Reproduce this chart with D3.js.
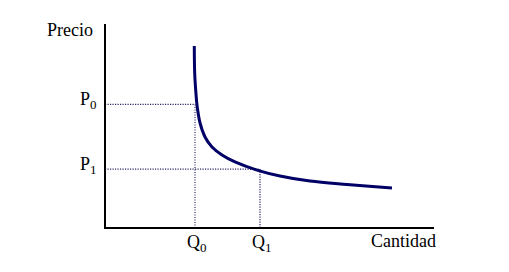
<!DOCTYPE html>
<html>
<head>
<meta charset="utf-8">
<script src="https://cdn.jsdelivr.net/npm/d3@7"></script>
<style>
  body { margin: 0; background: #fff; }
  text { font-family: "Liberation Serif", "Times New Roman", serif; fill: #000; }
</style>
</head>
<body>
<div id="wrapper"></div>
<script>
// demand curve (quantity, price in arbitrary units 0..10)
const curveQuantity = [2.714, 2.726, 2.757, 2.796, 2.888, 3.040, 3.252, 3.556, 3.951, 4.620, 5.319, 6.231, 7.356, 8.723];
const curvePrice    = [8.92, 7.60, 6.76, 6.03, 5.15, 4.46, 3.97, 3.58, 3.24, 2.84, 2.55, 2.30, 2.13, 1.96];

const refQuantities = [2.736, 4.711];
const refPrices     = [6.06, 2.89];
const refQLabels    = ["0", "1"];
const refPLabels    = ["0", "1"];

const axisTitleY = "Precio";
const axisTitleX = "Cantidad";

let dimensions = {
    width: 509,
    height: 272,
    margin: { top: 24, right: 75, bottom: 44, left: 105 }
};
dimensions.boundedWidth = dimensions.width - dimensions.margin.left - dimensions.margin.right;
dimensions.boundedHeight = dimensions.height - dimensions.margin.top - dimensions.margin.bottom;

const xScale = d3.scaleLinear().domain([0, 10]).range([0, dimensions.boundedWidth]);
const yScale = d3.scaleLinear().domain([0, 10]).range([dimensions.boundedHeight, 0]);

const svg = d3.select("#wrapper")
    .append("svg")
    .attr("width", dimensions.width)
    .attr("height", dimensions.height)
    .append("g")
    .attr("transform", `translate(${dimensions.margin.left},${dimensions.margin.top})`);

const dotColor = "#2a2a6a";

// dotted guide lines
refQuantities.forEach((q, i) => {
    const p = refPrices[i];
    svg.append("line")
        .attr("x1", xScale(0)).attr("x2", xScale(q))
        .attr("y1", yScale(p)).attr("y2", yScale(p))
        .attr("stroke", dotColor).attr("stroke-width", 1.2)
        .attr("stroke-dasharray", "1.2,1.3");
    svg.append("line")
        .attr("x1", xScale(q)).attr("x2", xScale(q))
        .attr("y1", yScale(p)).attr("y2", yScale(0))
        .attr("stroke", dotColor).attr("stroke-width", 1.2)
        .attr("stroke-dasharray", "1.2,1.3");
});

// axes
svg.append("line")
    .attr("x1", xScale(0)).attr("x2", xScale(0))
    .attr("y1", yScale(0) + 1).attr("y2", yScale(10))
    .attr("stroke", "#000").attr("stroke-width", 2);
svg.append("line")
    .attr("x1", xScale(0) - 1).attr("x2", xScale(10))
    .attr("y1", yScale(0)).attr("y2", yScale(0))
    .attr("stroke", "#000").attr("stroke-width", 2);

// curve
const curveData = curveQuantity.map((q, i) => ({ q: q, p: curvePrice[i] }));
svg.append("path")
    .datum(curveData)
    .attr("d", d3.line()
        .x(d => xScale(d.q))
        .y(d => yScale(d.p))
        .curve(d3.curveCatmullRom.alpha(0.5)))
    .attr("fill", "none")
    .attr("stroke", "#000066")
    .attr("stroke-width", 3);

// labels
function subLabel(sel, main, sub) {
    sel.append("tspan").text(main);
    sel.append("tspan").attr("font-size", 13).attr("dy", 4).text(sub);
}

refPrices.forEach((p, i) => {
    const t = svg.append("text")
        .attr("x", -25)
        .attr("y", yScale(p) + 1)
        .attr("font-size", 18);
    subLabel(t, "P", refPLabels[i]);
});

refQuantities.forEach((q, i) => {
    const t = svg.append("text")
        .attr("x", xScale(q) - 8)
        .attr("y", yScale(0) + 20)
        .attr("font-size", 18);
    subLabel(t, "Q", refQLabels[i]);
});

svg.append("text")
    .attr("x", -58)
    .attr("y", 12)
    .attr("font-size", 18)
    .text(axisTitleY);

svg.append("text")
    .attr("x", xScale(10) + 2)
    .attr("y", yScale(0) + 19)
    .attr("text-anchor", "end")
    .attr("font-size", 18)
    .text(axisTitleX);
</script>
</body>
</html>
